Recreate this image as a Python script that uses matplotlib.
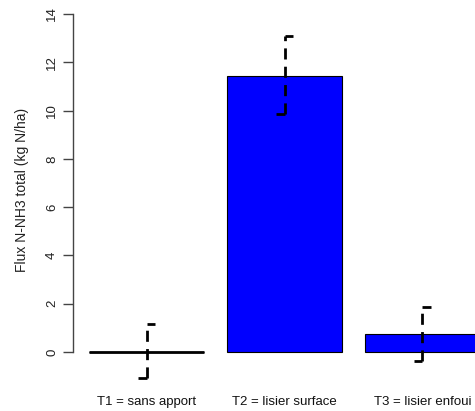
import matplotlib
matplotlib.use("Agg")
import matplotlib.pyplot as plt
from matplotlib.transforms import blended_transform_factory

categories = ["T1 = sans apport", "T2 = lisier surface", "T3 = lisier enfoui"]
values = [0.0, 11.45, 0.75]
err_low = [-1.08, 9.85, -0.37]
err_high = [1.16, 13.1, 1.87]
yticks = [0, 2, 4, 6, 8, 10, 12, 14]
ylabel = "Flux N-NH3 total (kg N/ha)"

W, H = 475, 411
fig = plt.figure(figsize=(W / 100, H / 100), dpi=100)
plt.rcParams['font.family'] = ['Liberation Sans', 'DejaVu Sans']

# pixel geometry: x=0 -> 66px, 115 px/unit ; y=0 -> 352px, 24.14 px/unit
px_x0, sx = 66.0, 115.0
px_y0, sy = 352.0, 24.14
xl = (0.064, (W - px_x0) / sx)
yl = (-1.6, 14.5)
left = px_x0 + xl[0] * sx
right = W
top = px_y0 - yl[1] * sy
bottom = px_y0 - yl[0] * sy
ax = fig.add_axes([left / W, 1 - bottom / H, (right - left) / W, (bottom - top) / H])
ax.set_xlim(*xl)
ax.set_ylim(*yl)

xs = [0.7 + 1.2 * i for i in range(len(values))]
ax.bar(xs, values, width=1.0, color="#0000FF", edgecolor="black", linewidth=0.8, zorder=2)
# zero-height bar drawn as a line
for x, v in zip(xs, values):
    if v == 0:
        ax.plot([x - 0.5, x + 0.5], [0, 0], color="black", linewidth=2, zorder=3,
                solid_capstyle="butt")

cap = 0.07
for x, lo, hi in zip(xs, err_low, err_high):
    ax.plot([x, x], [lo, hi], color="black", linewidth=2, linestyle=(0, (4, 2.6)), zorder=4)
    ax.plot([x, x + cap], [hi, hi], color="black", linewidth=2, zorder=4, solid_capstyle="butt")
    ax.plot([x - cap, x], [lo, lo], color="black", linewidth=2, zorder=4, solid_capstyle="butt")

for s in ["top", "right", "bottom"]:
    ax.spines[s].set_visible(False)
ax.spines["left"].set_bounds(0, 14)
ax.spines["left"].set_color("#444444")
ax.spines["left"].set_linewidth(1.0)
ax.set_yticks(yticks)
ax.set_yticklabels([str(t) for t in yticks], rotation=90, va="center", fontsize=9.5, color="#222222")
ax.tick_params(axis="y", length=7, width=1.0, color="#444444", pad=4)
ax.set_xticks([])

trans = blended_transform_factory(ax.transData, fig.transFigure)
for x, c in zip(xs, categories):
    ax.text(x, 1 - 402 / H, c, transform=trans, ha="center", va="center", fontsize=9.5, color="#111111")

fig.text(22 / W, 1 - 190 / H, ylabel, rotation=90, ha="center", va="center", fontsize=10, color="#222222")

fig.savefig("out.png", dpi=100)
